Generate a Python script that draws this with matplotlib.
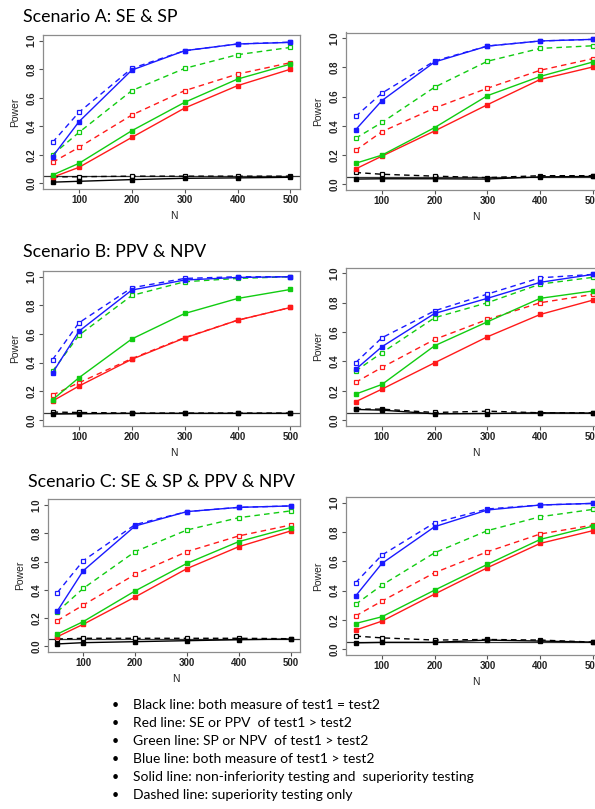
import matplotlib
matplotlib.use("Agg")
import matplotlib.pyplot as plt

W, H = 595, 809

N = [50, 100, 200, 300, 400, 500]
XTICKS = [100, 200, 300, 400, 500]
YTICKS = [0.0, 0.2, 0.4, 0.6, 0.8, 1.0]

# Scenario A: SE & SP (left / right)
A_LEFT = {
    "black_solid":  [0.008, 0.014, 0.026, 0.035, 0.038, 0.042],
    "black_dashed": [0.045, 0.046, 0.050, 0.050, 0.050, 0.050],
    "red_solid":    [0.042, 0.112, 0.322, 0.528, 0.685, 0.800],
    "red_dashed":   [0.147, 0.252, 0.479, 0.650, 0.766, 0.846],
    "green_solid":  [0.058, 0.140, 0.369, 0.568, 0.731, 0.836],
    "green_dashed": [0.200, 0.357, 0.650, 0.806, 0.902, 0.953],
    "blue_solid":   [0.187, 0.432, 0.794, 0.930, 0.977, 0.988],
    "blue_dashed":  [0.287, 0.498, 0.806, 0.930, 0.977, 0.990],
}
A_RIGHT = {
    "black_solid":  [0.035, 0.037, 0.037, 0.035, 0.050, 0.053],
    "black_dashed": [0.080, 0.068, 0.055, 0.045, 0.058, 0.058],
    "red_solid":    [0.104, 0.192, 0.365, 0.545, 0.718, 0.804],
    "red_dashed":   [0.231, 0.360, 0.522, 0.658, 0.781, 0.861],
    "green_solid":  [0.143, 0.199, 0.388, 0.607, 0.739, 0.838],
    "green_dashed": [0.314, 0.423, 0.665, 0.843, 0.931, 0.949],
    "blue_solid":   [0.372, 0.573, 0.838, 0.947, 0.982, 0.993],
    "blue_dashed":  [0.464, 0.624, 0.845, 0.947, 0.982, 0.993],
}

# Scenario B: PPV & NPV
B_LEFT = {
    "black_solid":  [0.040, 0.042, 0.045, 0.045, 0.045, 0.045],
    "black_dashed": [0.054, 0.051, 0.047, 0.047, 0.047, 0.047],
    "red_solid":    [0.131, 0.236, 0.423, 0.572, 0.696, 0.785],
    "red_dashed":   [0.173, 0.259, 0.428, 0.575, 0.696, 0.785],
    "green_solid":  [0.140, 0.294, 0.565, 0.743, 0.848, 0.911],
    "green_dashed": [0.339, 0.591, 0.869, 0.965, 0.988, 1.000],
    "blue_solid":   [0.327, 0.619, 0.907, 0.977, 0.995, 1.000],
    "blue_dashed":  [0.420, 0.678, 0.923, 0.988, 1.000, 1.000],
}
B_RIGHT = {
    "black_solid":  [0.073, 0.068, 0.043, 0.045, 0.050, 0.048],
    "black_dashed": [0.075, 0.075, 0.052, 0.061, 0.050, 0.050],
    "red_solid":    [0.125, 0.211, 0.391, 0.568, 0.720, 0.818],
    "red_dashed":   [0.257, 0.359, 0.550, 0.686, 0.800, 0.857],
    "green_solid":  [0.177, 0.243, 0.507, 0.670, 0.830, 0.880],
    "green_dashed": [0.334, 0.459, 0.698, 0.800, 0.927, 0.973],
    "blue_solid":   [0.345, 0.500, 0.727, 0.830, 0.939, 0.993],
    "blue_dashed":  [0.391, 0.561, 0.745, 0.859, 0.970, 0.993],
}

# Scenario C: SE & SP & PPV & NPV
C_LEFT = {
    "black_solid":  [0.017, 0.026, 0.033, 0.040, 0.047, 0.052],
    "black_dashed": [0.052, 0.057, 0.057, 0.057, 0.057, 0.054],
    "red_solid":    [0.068, 0.156, 0.349, 0.550, 0.705, 0.816],
    "red_dashed":   [0.182, 0.292, 0.509, 0.670, 0.781, 0.858],
    "green_solid":  [0.087, 0.175, 0.392, 0.587, 0.741, 0.840],
    "green_dashed": [0.245, 0.410, 0.670, 0.823, 0.910, 0.958],
    "blue_solid":   [0.250, 0.535, 0.851, 0.953, 0.983, 0.993],
    "blue_dashed":  [0.380, 0.606, 0.861, 0.953, 0.983, 0.993],
}
C_RIGHT = {
    "black_solid":  [0.043, 0.046, 0.046, 0.062, 0.055, 0.048],
    "black_dashed": [0.089, 0.077, 0.062, 0.066, 0.062, 0.048],
    "red_solid":    [0.130, 0.191, 0.376, 0.556, 0.722, 0.809],
    "red_dashed":   [0.226, 0.328, 0.522, 0.665, 0.786, 0.847],
    "green_solid":  [0.175, 0.221, 0.403, 0.579, 0.749, 0.840],
    "green_dashed": [0.305, 0.437, 0.658, 0.809, 0.904, 0.954],
    "blue_solid":   [0.362, 0.585, 0.836, 0.950, 0.984, 0.995],
    "blue_dashed":  [0.453, 0.642, 0.863, 0.957, 0.984, 0.995],
}

TITLES = ["Scenario A: SE & SP", "Scenario B: PPV & NPV",
          "Scenario C: SE & SP & PPV & NPV"]

BULLETS = [
    "Black line: both measure of test1 = test2",
    "Red line: SE or PPV  of test1 > test2",
    "Green line: SP or NPV  of test1 > test2",
    "Blue line: both measure of test1 > test2",
    "Solid line: non-inferiority testing and  superiority testing",
    "Dashed line: superiority testing only",
]

COLORS = {"black": "#000000", "red": "#ff1a1a", "green": "#11cc11", "blue": "#1a1aff"}


def px_axes(fig, left, top, right, bottom):
    return fig.add_axes([left / W, 1 - bottom / H, (right - left) / W, (bottom - top) / H])


def draw_panel(ax, data):
    for col in ["black", "red", "green", "blue"]:
        c = COLORS[col]
        ax.plot(N, data[col + "_dashed"], color=c, lw=1.0, ls=(0, (4, 3)),
                marker="s", ms=3.4, mfc="white", mec=c, mew=0.9, zorder=3)
        ax.plot(N, data[col + "_solid"], color=c, lw=1.0, ls="-",
                marker="s", ms=2.2, mfc=c, mec=c, zorder=4)
    ax.axhline(0.05, color="#333333", lw=0.9, zorder=2)
    ax.set_xlim(32, 518)
    ax.set_ylim(-0.04, 1.04)
    ax.set_xticks(XTICKS)
    ax.set_xticklabels([str(v) for v in XTICKS], fontsize=7, fontweight="bold",
                       family="Liberation Sans")
    ax.set_yticks(YTICKS)
    ax.set_yticklabels(["%.1f" % v for v in YTICKS], fontsize=7, rotation=90,
                       va="center", fontweight="bold", family="Liberation Sans")
    for s in ax.spines.values():
        s.set_color("#8c8c8c")
        s.set_linewidth(0.9)
    ax.tick_params(axis="both", direction="out", length=3, width=0.8,
                   color="#555555", labelcolor="#222222")
    ax.tick_params(axis="x", pad=1.5)
    ax.tick_params(axis="y", pad=1.5)


fig = plt.figure(figsize=(W / 100, H / 100), dpi=100)

# pixel boxes (left, top, right, bottom) of each plot frame
boxes = [
    ((43, 35, 300, 189), A_LEFT), ((346, 32.5, 602.5, 190), A_RIGHT),
    ((43, 271, 300, 425.5), B_LEFT), ((346, 267.5, 602.5, 426), B_RIGHT),
    ((48, 499.3, 300, 652), C_LEFT), ((346, 496.8, 602.5, 655), C_RIGHT),
]

for (l, t, r, b), data in boxes:
    ax = px_axes(fig, l, t, r, b)
    draw_panel(ax, data)
    fig.text((l + r) / 2 / W + 2 / W, 1 - (b + 27) / H, "N", ha="center",
             va="center", fontsize=7.5, family="Liberation Sans", color="#222222")
    fig.text((l - 28) / W, 1 - (t + b) / 2 / H, "Power", rotation=90, ha="center",
             va="center", fontsize=7.5, family="Liberation Sans", color="#222222")

title_pos = [(23, 17), (23, 252), (28, 482)]
for (x, y), txt in zip(title_pos, TITLES):
    fig.text(x / W, 1 - y / H, txt, ha="left", va="center", fontsize=12.8,
             family="Lato", color="black")

for i, txt in enumerate(BULLETS):
    y = 705 + 18 * i
    fig.text(112 / W, 1 - y / H, "\u2022", ha="left", va="center", fontsize=9,
             family="Lato")
    fig.text(133 / W, 1 - y / H, txt, ha="left", va="center", fontsize=10,
             family="Lato")

fig.savefig("out.png", dpi=100)
